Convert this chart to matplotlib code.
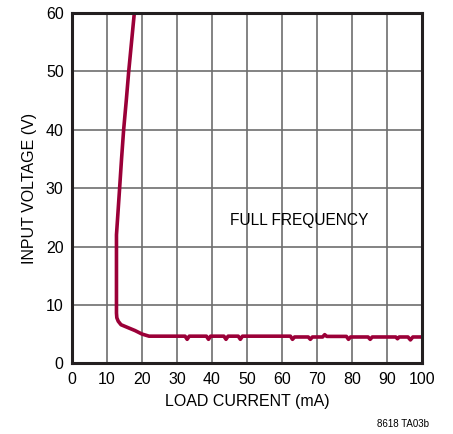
import matplotlib
matplotlib.use("Agg")
import matplotlib.pyplot as plt

plt.rcParams['font.family'] = ['Liberation Sans Narrow', 'Liberation Sans', 'DejaVu Sans']

# load current (mA) vs input voltage (V)
current = [17.8, 17.0, 16.2, 15.5, 14.75, 14.15, 13.6, 13.15, 12.7, 12.7, 12.8, 13.2, 14.0, 16.0, 18.0, 20.0, 22.0,
           32.3, 32.9, 33.5, 38.4, 39.0, 39.6, 43.4, 44.0, 44.6, 47.5, 48.1, 48.7,
           62.4, 63.0, 63.6, 67.5, 68.1, 68.7, 71.6, 72.2, 72.8, 78.4, 79.0, 79.6,
           84.6, 85.2, 85.8, 92.5, 93.0, 93.5, 96.0, 96.7, 97.4, 100]
voltage = [60, 55, 50, 45, 40, 35, 30, 26, 22, 8.6, 7.8, 7.2, 6.6, 6.1, 5.6, 5.0, 4.64,
           4.64, 4.1, 4.64, 4.64, 4.1, 4.64, 4.64, 4.1, 4.64, 4.64, 4.1, 4.64,
           4.64, 4.1, 4.5, 4.5, 4.1, 4.5, 4.5, 4.9, 4.6, 4.6, 4.1, 4.5, 4.5,
           4.1, 4.5, 4.5, 4.2, 4.5, 4.5, 4.0, 4.5, 4.5]

xticks = list(range(0, 101, 10))
yticks = list(range(0, 61, 10))

fig = plt.figure(figsize=(4.53, 4.34), dpi=100)
ax = fig.add_axes([0.159, 0.163, 0.7725, 0.807])
ax.plot(current, voltage, color='#9b0038', lw=2.6, solid_joinstyle='round')
ax.set_xlim(0, 100)
ax.set_ylim(0, 60)
ax.set_xticks(xticks)
ax.set_yticks(yticks)
ax.grid(True, color='#6e6e6e', lw=1.2)
ax.tick_params(length=0, labelsize=11.5, pad=6)
for s in ax.spines.values():
    s.set_linewidth(2.2)
    s.set_color('#231f20')
ax.set_xlabel('LOAD CURRENT (mA)', fontsize=11.5, labelpad=5)
ax.set_ylabel('INPUT VOLTAGE (V)', fontsize=11.5, labelpad=6)
ax.text(65, 24.4, 'FULL FREQUENCY', fontsize=11.2, ha='center', va='center')
fig.text(0.89, 0.022, '8618 TA03b', fontsize=7, ha='center', va='center')
fig.savefig('out.png')
